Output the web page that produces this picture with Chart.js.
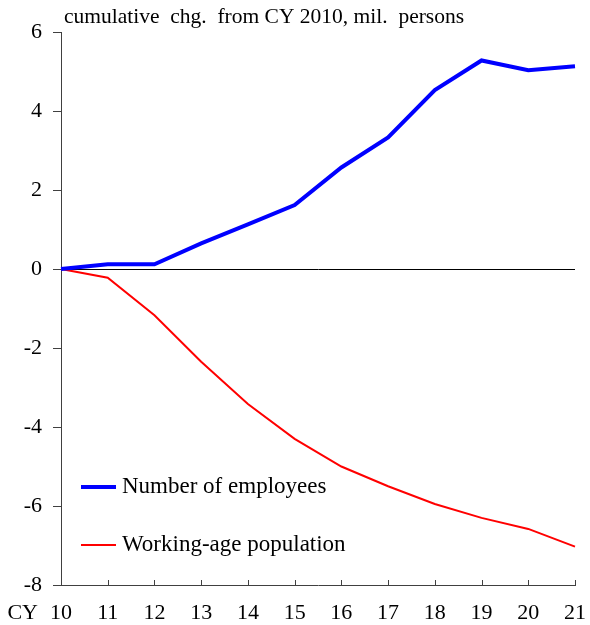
<!DOCTYPE html>
<html>
<head>
<meta charset="utf-8">
<script src="https://cdn.jsdelivr.net/npm/chart.js@4"></script>
<style>
  html, body { margin: 0; padding: 0; background: #fff; }
  #wrap { width: 590px; height: 625px; }
</style>
</head>
<body>
<div id="wrap"><canvas id="chart" width="590" height="625"></canvas></div>
<script>
// categories (CY 2010 .. 2021)
var years = ['10', '11', '12', '13', '14', '15', '16', '17', '18', '19', '20', '21'];
// cumulative change from CY 2010, mil. persons
var employees = [0, 0.12, 0.12, 0.65, 1.13, 1.62, 2.57, 3.33, 4.53, 5.28, 5.03, 5.13];
var workingAge = [0, -0.22, -1.17, -2.35, -3.42, -4.30, -5.00, -5.50, -5.95, -6.30, -6.58, -7.03];
var yTicks = [-8, -6, -4, -2, 0, 2, 4, 6];

var FONT = '"Liberation Serif", "Times New Roman", serif';
var AXIS = '#404040';

// title, "CY" prefix, inward x ticks and the in-plot legend
var extras = {
    id: 'extras',
    afterDraw: function (chart) {
        var ctx = chart.ctx;
        var x = chart.scales.x;
        var area = chart.chartArea;
        ctx.save();

        // x ticks pointing up into the plot
        ctx.strokeStyle = AXIS;
        ctx.lineWidth = 1;
        ctx.beginPath();
        for (var i = 0; i < years.length; i++) {
            var px = Math.round(x.getPixelForTick(i)) + 0.5;
            ctx.moveTo(px, area.bottom);
            ctx.lineTo(px, area.bottom - 5);
        }
        ctx.stroke();

        ctx.fillStyle = '#000';
        ctx.font = '21.5px ' + FONT;
        ctx.textBaseline = 'alphabetic';
        ctx.textAlign = 'left';
        ctx.fillText('cumulative  chg.  from CY 2010, mil.  persons', 64, 23);

        // "CY" in front of the first category label
        ctx.font = '22px ' + FONT;
        ctx.textAlign = 'right';
        ctx.textBaseline = 'middle';
        ctx.fillText('CY', x.getPixelForTick(0) - 23, 613);

        // legend
        ctx.textAlign = 'left';
        ctx.font = '23px ' + FONT;
        var ly = [487, 545];
        chart.data.datasets.forEach(function (ds, k) {
            ctx.strokeStyle = ds.borderColor;
            ctx.lineWidth = ds.borderWidth;
            ctx.beginPath();
            ctx.moveTo(81, ly[k]);
            ctx.lineTo(116, ly[k]);
            ctx.stroke();
            ctx.fillText(ds.label, 122, ly[k]);
        });
        ctx.restore();
    }
};

new Chart(document.getElementById('chart'), {
    type: 'line',
    data: {
        labels: years,
        datasets: [{
            label: 'Number of employees',
            data: employees,
            borderColor: '#0000FF',
            borderWidth: 4,
            pointRadius: 0,
            tension: 0
        }, {
            label: 'Working-age population',
            data: workingAge,
            borderColor: '#FF0000',
            borderWidth: 2,
            pointRadius: 0,
            tension: 0
        }]
    },
    options: {
        responsive: false,
        animation: false,
        layout: { padding: { top: 32, right: 15, left: 0, bottom: 0 } },
        plugins: {
            legend: { display: false },
            tooltip: { enabled: false }
        },
        scales: {
            x: {
                offset: false,
                grid: { display: false, drawTicks: false },
                border: { display: true, color: AXIS, width: 1 },
                ticks: {
                    color: '#000',
                    font: { family: FONT, size: 22 },
                    padding: 15,
                    maxRotation: 0,
                    autoSkip: false
                },
                afterFit: function (s) {
                    s.height = 40;
                    s.paddingLeft = 0;
                    s.paddingRight = 0;
                }
            },
            y: {
                min: -8,
                max: 6,
                afterBuildTicks: function (s) {
                    s.ticks = yTicks.map(function (v) { return { value: v }; });
                },
                grid: {
                    drawOnChartArea: true,
                    color: function (c) { return c.tick && c.tick.value === 0 ? '#000' : 'rgba(0,0,0,0)'; },
                    tickColor: AXIS,
                    tickLength: 8
                },
                border: { display: true, color: AXIS, width: 1 },
                ticks: {
                    color: '#000',
                    font: { family: FONT, size: 22 },
                    padding: 11
                },
                afterFit: function (s) {
                    s.width = 61;
                    s.paddingTop = 0;
                    s.paddingBottom = 0;
                }
            }
        }
    },
    plugins: [extras]
});
</script>
</body>
</html>
